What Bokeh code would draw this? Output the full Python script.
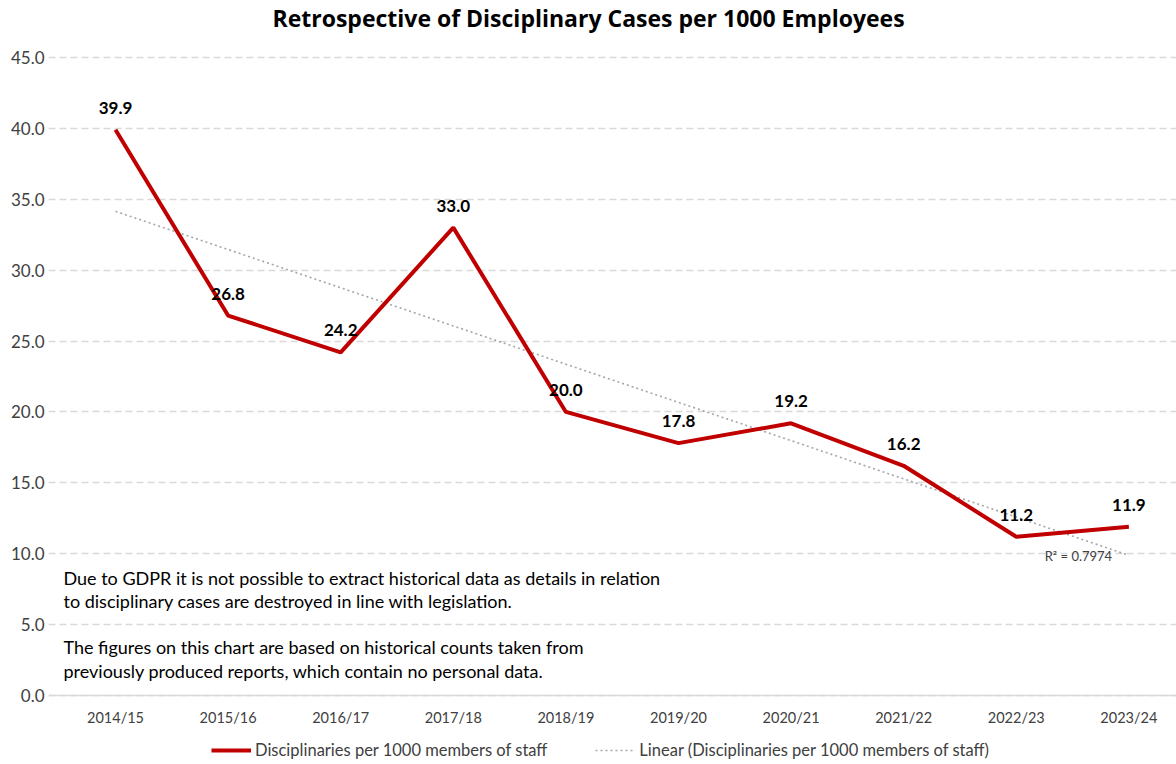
from bokeh.plotting import figure
from bokeh.models import Range1d, FixedTicker, Label, Span, Legend, LegendItem, ColumnDataSource
from bokeh.embed import file_html
from bokeh.resources import INLINE
import numpy as np

years = ["2014/15", "2015/16", "2016/17", "2017/18", "2018/19",
         "2019/20", "2020/21", "2021/22", "2022/23", "2023/24"]
values = [39.9, 26.8, 24.2, 33.0, 20.0, 17.8, 19.2, 16.2, 11.2, 11.9]
y_ticks = [0, 5, 10, 15, 20, 25, 30, 35, 40, 45]
title_text = "Retrospective of Disciplinary Cases per 1000 Employees"
r2_text = "R\u00b2 = 0.7974"
note_lines = [
    "Due to GDPR it is not possible to extract historical data as details in relation",
    "to disciplinary cases are destroyed in line with  legislation.",
    "The figures on this chart are based on historical counts taken from",
    "previously produced reports, which contain no personal data.",
]
series_name = "Disciplinaries per 1000 members of staff"

FONT = "Lato"
xs = list(range(len(years)))

# linear trendline (least squares, as in the spreadsheet)
slope, intercept = np.polyfit(np.array(xs, dtype=float), np.array(values), 1)
trend = [intercept + slope * x for x in xs]

# the frame spans the whole canvas height; the value axis only ticks 0..45
p = figure(frame_width=1128, frame_height=764, output_backend="svg", toolbar_location=None,
           x_range=Range1d(-0.595, 9.423), y_range=Range1d(-4.867, 49.02),
           min_border_left=48, min_border_right=0, min_border_top=0, min_border_bottom=0)
p.outline_line_color = None
p.background_fill_color = "white"
p.border_fill_color = "white"

p.add_layout(Label(x=4.201, y=47.82, text=title_text, text_align="center",
                   text_baseline="middle", text_font="Open Sans", text_font_size="23px",
                   text_font_style="bold", text_color="black"))

# axes
p.xaxis.visible = False
p.yaxis.ticker = FixedTicker(ticks=y_ticks)
p.yaxis.major_label_overrides = {t: f"{t:.1f}" for t in y_ticks}
p.yaxis.axis_line_color = None
p.yaxis.major_tick_line_color = None
p.yaxis.minor_tick_line_color = None
p.yaxis.major_tick_out = 0
p.yaxis.major_tick_in = 0
p.yaxis.major_label_text_font = FONT
p.yaxis.major_label_text_color = "#404040"
p.yaxis.major_label_text_font_size = "17px"
p.yaxis.major_label_standoff = 4

p.xgrid.grid_line_color = None
p.ygrid.grid_line_color = "#D9D9D9"
p.ygrid.grid_line_dash = "7 4"
p.ygrid.grid_line_width = 1.3
p.add_layout(Span(location=0, dimension="width", line_color="#D9D9D9", line_width=1.5))

# category labels under the baseline
cat_src = ColumnDataSource(dict(x=xs, y=[0] * len(xs), lab=years))
p.text("x", "y", text="lab", source=cat_src, y_offset=22, text_align="center",
       text_baseline="middle", text_font_size="14.5px", text_color="#404040",
       text_font={"value": FONT})

src = ColumnDataSource(dict(x=xs, y=values, lab=[f"{v:.1f}" for v in values], t=trend))

trend_r = p.line("x", "t", source=src, line_color="#A6A6A6", line_width=1.6, line_dash="2 3")
main_r = p.line("x", "y", source=src, line_color="#C00000", line_width=4)

p.text("x", "y", text="lab", source=src, y_offset=-22, text_align="center",
       text_baseline="middle", text_font_size="17px", text_font_style="bold",
       text_color="black", text_font={"value": FONT})

p.add_layout(Label(x=8.552, y=9.87, text=r2_text, text_align="center",
                   text_baseline="middle", text_font=FONT, text_font_size="13px",
                   text_color="#404040"))

note_y = [8.32, 6.70, 3.39, 1.76]
for line, yy in zip(note_lines, note_y):
    p.add_layout(Label(x=-0.462, y=yy, text=line, text_align="left", text_baseline="middle",
                       text_font=FONT, text_font_size="18px", text_color="black"))

legend = Legend(items=[LegendItem(label=series_name, renderers=[main_r]),
                       LegendItem(label="Linear (" + series_name + ")", renderers=[trend_r])],
                orientation="horizontal", location=(163, 4),
                label_text_font=FONT, label_text_font_size="16.5px", label_text_color="#404040",
                glyph_width=40, glyph_height=14, label_height=14, label_standoff=4,
                spacing=48, padding=0, margin=0, border_line_color=None,
                background_fill_alpha=0)
p.add_layout(legend)

open("out.html", "w").write(file_html(p, INLINE))
